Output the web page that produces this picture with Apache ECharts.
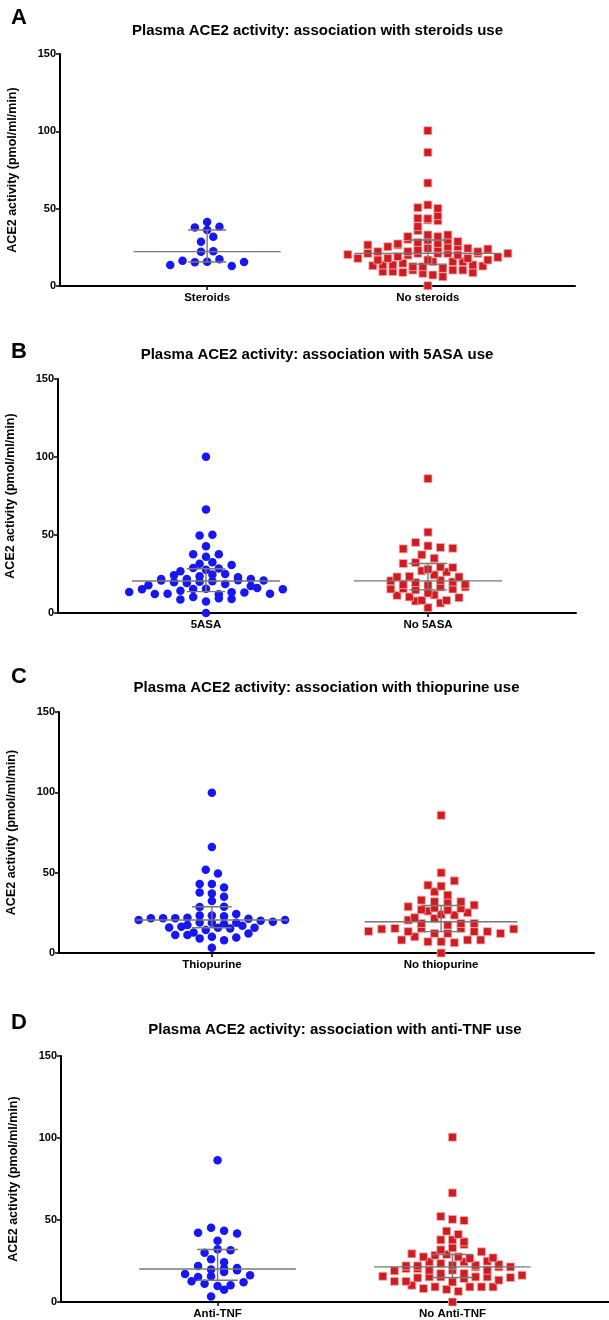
<!DOCTYPE html>
<html>
<head>
<meta charset="utf-8">
<title>Plasma ACE2 activity and IBD medication</title>
<script src="https://cdn.jsdelivr.net/npm/echarts@6.0.0/dist/echarts.min.js"></script>
<style>
  html, body { margin: 0; padding: 0; background: #fff; }
  #chart { width: 609px; height: 1320px; }
</style>
</head>
<body>
<div id="chart"></div>
<script>
// values (pmol/ml/min)
const panelLetters = ['A', 'B', 'C', 'D']
const panelTitles = [
  'Plasma ACE2 activity: association with steroids use',
  'Plasma ACE2 activity: association with 5ASA use',
  'Plasma ACE2 activity: association with thiopurine use',
  'Plasma ACE2 activity: association with anti-TNF use',
]
const groupLabels = [
  ['Steroids', 'No steroids'],
  ['5ASA', 'No 5ASA'],
  ['Thiopurine', 'No thiopurine'],
  ['Anti-TNF', 'No Anti-TNF'],
]
const yTicks = [0, 50, 100, 150]

const steroids = [13.6, 16.4, 37.9, 28.6, 22.2, 15.3, 41.4, 36.2, 31.9, 22.4, 15.7, 38.3, 17.3, 12.9, 15.5]
const noSteroids = [
  27.2, 20.3, 26.5, 22.2, 17.9, 13.1, 25.4, 21.1, 16.8, 9.3,
  30.2, 26.5, 22.2, 17.9, 13.6, 9.3, 28.2, 23.3, 19.0, 13.6, 8.8,
  43.8, 29.7, 24.4, 20.0, 14.7, 10.3, 50.6, 43.5, 38.4, 31.9, 27.6, 24.4, 12.5, 8.2, 0.2,
  100.4, 86.4, 66.6, 52.4, 42.7, 35.8, 29.7, 25.4, 21.1, 16.8, 12.5, 7.1,
  50.2, 42.2, 33.0, 21.1, 15.7, 11.4, 6.0, 45.5, 31.9, 25.4, 21.1, 15.7, 10.3,
  33.0, 28.7, 24.4, 20.0, 15.7, 10.3, 22.2, 17.9, 13.6, 21.1, 16.8, 8.6, 23.9, 18.5, 12.9, 21.1,
]

const fiveAsa = [
  26.8, 21.8, 17.8, 13.5, 20.8, 15.2, 24.2, 12.2, 31.5, 21.8, 12.4,
  37.7, 28.9, 19.7, 14.3, 8.6, 49.7, 36.0, 27.8, 23.5, 19.3, 15.4, 10.3,
  100.2, 66.4, 42.8, 0, 50.1, 28.5, 24.6, 20.1, 15.6, 12.0, 7.3,
  37.7, 30.8, 25.0, 20.3, 13.3, 9.4, 32.5, 22.9, 18.6, 13.1, 9.0,
  21.0, 16.1, 21.8, 17.3, 12.4, 20.8, 15.2,
]
const noFiveAsa = [
  20.6, 15.4, 23.1, 18.2, 41.1, 31.7, 15.6, 11.3, 7.7,
  45.2, 37.3, 32.3, 28.0, 23.5, 19.5, 14.8, 10.3, 3.4,
  86.1, 51.8, 43.0, 29.5, 17.8, 12.8, 8.1, 42.0, 35.1, 27.0, 21.0, 16.7, 11.6, 6.4,
  41.5, 29.1, 24.4, 19.9, 15.4, 8.1, 26.3, 23.1, 16.7, 9.8, 18.4,
]

const thiopurine = [
  21.9, 20.5, 21.7, 15.9, 11.2, 21.7, 16.4, 11.2, 21.7, 17.4, 12.8,
  51.8, 42.9, 37.7, 28.6, 23.4, 19.0, 14.3, 9.1,
  99.8, 66.0, 49.5, 42.9, 37.1, 32.3, 23.4, 18.8, 15.7, 10.1, 3.3,
  40.8, 35.0, 28.8, 22.8, 18.0, 7.9, 24.2, 18.8, 15.3, 9.7,
  21.3, 17.0, 12.2, 20.1, 15.7, 19.5, 20.5,
]
const noThiopurine = [
  13.5, 14.9, 32.9, 28.8, 22.0, 15.3, 26.9, 13.3, 8.1, 31.9, 26.1, 20.5, 15.3, 10.1,
  42.2, 38.1, 31.5, 24.0, 18.4, 12.2, 7.0, 85.7, 49.9, 0,
  41.6, 36.0, 28.0, 21.5, 17.4, 12.2, 7.0, 44.9, 31.9, 26.7, 15.3, 6.4,
  27.7, 23.6, 18.4, 13.3, 8.1, 29.8, 25.1, 18.4, 13.3, 8.1, 12.2, 14.9,
]

const antiTnf = [
  22.0, 17.1, 12.6, 42.2, 26.1, 19.8, 15.3, 11.2, 45.3, 30.0, 20.4, 15.7, 9.8,
  86.4, 37.3, 3.3, 43.4, 32.2, 18.3, 10.2, 41.8, 31.6, 24.3, 19.4, 7.5, 20.8, 16.3, 12.0,
]
const noAntiTnf = [
  22.0, 15.7, 19.0, 12.6, 20.4, 12.6, 29.4, 22.0, 14.7, 10.2,
  31.8, 24.5, 20.4, 15.3, 8.2, 52.2, 37.9, 27.5, 23.4, 19.4, 15.3, 9.2,
  50.4, 33.0, 28.5, 22.4, 17.3, 12.2, 7.7, 100.5, 66.5, 0,
  49.7, 43.2, 37.9, 29.0, 24.5, 19.4, 14.3, 6.5, 41.2, 36.7, 27.5, 22.4, 17.3, 9.2,
  26.5, 21.4, 15.3, 9.2, 35.1, 30.6, 24.9, 19.4, 15.3, 9.2,
  21.4, 13.3, 22.8, 14.9, 26.9, 21.4, 16.3,
]

const panelData = [
  [steroids, noSteroids],
  [fiveAsa, noFiveAsa],
  [thiopurine, noThiopurine],
  [antiTnf, noAntiTnf],
]

// layout of each panel (pixels) and spacing of swarm columns
const panels = [
  { grid: { left: 60, top: 54, width: 515, height: 232 }, titleY: 31, letterY: 18, dotStep: 12.3, squareStep: 10 },
  { grid: { left: 58, top: 379, width: 518, height: 234 }, titleY: 355, letterY: 352, dotStep: 12.8, squareStep: 12.4 },
  { grid: { left: 59, top: 712, width: 535, height: 241 }, titleY: 688, letterY: 677, dotStep: 12.2, squareStep: 13.2 },
  { grid: { left: 61, top: 1056, width: 548, height: 246 }, titleY: 1030, letterY: 1023, dotStep: 13, squareStep: 11.6 },
]
const groupCenters = [1, 2.5]
const xMax = 3.5
const rowPx = 7 // height of a swarm row

const fontFamily = '"Liberation Sans", Arial, sans-serif'
const blue = '#1717f2'
const red = '#cf1c22'

// Prism-like column scatter: values close together share a row and are spread sideways
function swarm(values, center, rowH, step) {
  const order = values.map((v, i) => i).sort((a, b) => values[a] - values[b] || a - b)
  const out = []
  let row = []
  let start = 0
  const flush = () => {
    row.sort((a, b) => a - b)
    row.forEach((i, k) => out.push([center + (k - (row.length - 1) / 2) * step, values[i]]))
    row = []
  }
  order.forEach((i) => {
    if (row.length && values[i] - start >= rowH) flush()
    if (!row.length) start = values[i]
    row.push(i)
  })
  if (row.length) flush()
  return out
}

function quantile(sorted, p) {
  const pos = (sorted.length + 1) * p
  const lo = Math.floor(pos)
  const frac = pos - lo
  if (lo < 1) return sorted[0]
  if (lo >= sorted.length) return sorted[sorted.length - 1]
  return sorted[lo - 1] + frac * (sorted[lo] - sorted[lo - 1])
}

function summary(values, center) {
  const s = values.slice().sort((a, b) => a - b)
  return [center, quantile(s, 0.5), quantile(s, 0.25), quantile(s, 0.75)]
}

const chart = echarts.init(document.getElementById('chart'), null, { renderer: 'canvas' })

const grids = []
const xAxes = []
const yAxes = []
const series = []
const graphics = []

panels.forEach((p, pi) => {
  const unitX = p.grid.width / xMax
  const unitY = p.grid.height / 150
  // fixed placement: do not let v6 shrink the grid to fit the axis name
  grids.push({ ...p.grid, outerBoundsMode: 'none' })
  xAxes.push({
    gridIndex: pi,
    type: 'value',
    min: 0,
    max: xMax,
    splitLine: { show: false },
    axisLine: { onZero: false, lineStyle: { color: '#000', width: 2 } },
    axisTick: { customValues: groupCenters, length: 4, lineStyle: { color: '#000', width: 1.5 } },
    axisLabel: {
      customValues: groupCenters,
      formatter: (v) => groupLabels[pi][v === groupCenters[0] ? 0 : 1],
      color: '#000',
      fontFamily,
      fontWeight: 'bold',
      fontSize: 11.5,
      margin: 6,
    },
  })
  yAxes.push({
    gridIndex: pi,
    type: 'value',
    min: yTicks[0],
    max: yTicks[yTicks.length - 1],
    interval: 50,
    name: 'ACE2 activity (pmol/ml/min)',
    nameLocation: 'middle',
    nameRotate: 90,
    nameGap: 41,
    nameTextStyle: { color: '#000', fontFamily, fontWeight: 'bold', fontSize: 12.5 },
    splitLine: { show: false },
    axisLine: { show: true, lineStyle: { color: '#000', width: 2 } },
    axisTick: { show: true, length: 4, lineStyle: { color: '#000', width: 1.5 } },
    axisLabel: { color: '#000', fontFamily, fontWeight: 'bold', fontSize: 11, margin: 4 },
  })

  const [left, right] = panelData[pi]
  series.push({
    type: 'scatter',
    xAxisIndex: pi,
    yAxisIndex: pi,
    symbol: 'circle',
    symbolSize: 8.5,
    itemStyle: { color: blue, opacity: 1 },
    data: swarm(left, groupCenters[0], rowPx / unitY, p.dotStep / unitX),
    z: 2,
  })
  series.push({
    type: 'scatter',
    xAxisIndex: pi,
    yAxisIndex: pi,
    symbol: 'rect',
    symbolSize: 8,
    itemStyle: { color: red, borderColor: '#f2b3b3', borderWidth: 0.8, opacity: 1 },
    data: swarm(right, groupCenters[1], rowPx / unitY, p.squareStep / unitX),
    z: 2,
  })
  // median line with interquartile range
  series.push({
    type: 'custom',
    xAxisIndex: pi,
    yAxisIndex: pi,
    z: 3,
    silent: true,
    data: [summary(left, groupCenters[0]), summary(right, groupCenters[1])],
    renderItem: (params, api) => {
      const c = api.value(0)
      const med = api.value(1)
      const q1 = api.value(2)
      const q3 = api.value(3)
      const seg = (x1, y1, x2, y2) => {
        const a = api.coord([x1, y1])
        const b = api.coord([x2, y2])
        return {
          type: 'line',
          shape: { x1: a[0], y1: a[1], x2: b[0], y2: b[1] },
          style: { stroke: '#777', lineWidth: 1.4 },
        }
      }
      return {
        type: 'group',
        children: [
          seg(c - 0.5, med, c + 0.5, med),
          seg(c - 0.13, q1, c + 0.13, q1),
          seg(c - 0.13, q3, c + 0.13, q3),
          seg(c, q1, c, q3),
        ],
      }
    },
  })

  graphics.push({
    type: 'text',
    left: 11,
    top: p.letterY - 11,
    style: { text: panelLetters[pi], font: 'bold 22px ' + fontFamily, fill: '#000' },
  })
  graphics.push({
    type: 'text',
    x: p.grid.left + p.grid.width / 2,
    y: p.titleY,
    style: {
      text: panelTitles[pi],
      font: 'bold 15px ' + fontFamily,
      fill: '#000',
      align: 'center',
      verticalAlign: 'middle',
    },
  })
})

chart.setOption({
  animation: false,
  backgroundColor: '#fff',
  grid: grids,
  xAxis: xAxes,
  yAxis: yAxes,
  series,
  graphic: graphics,
})
</script>
</body>
</html>
